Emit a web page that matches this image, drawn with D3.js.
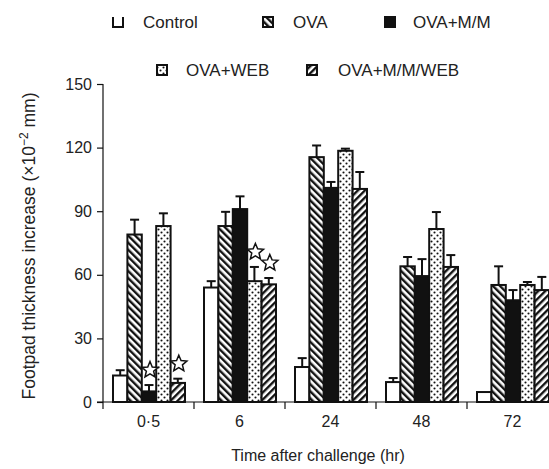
<!DOCTYPE html>
<html>
<head>
<meta charset="utf-8">
<script src="https://cdn.jsdelivr.net/npm/d3@7"></script>
<style>
html,body{margin:0;padding:0;background:#fff;}
svg{display:block;font-family:"Liberation Sans",Arial,sans-serif;}
</style>
</head>
<body>
<svg id="chart" width="549" height="469"></svg>
<script>
const times = ["0·5", "6", "24", "48", "72"];
const series = ["Control", "OVA", "OVA+M/M", "OVA+WEB", "OVA+M/M/WEB"];
const control   = [12.5, 54, 16.5, 9.4, 4.7];
const ova       = [79, 83, 115.5, 64, 55.2];
const ovaMM     = [5, 91, 101, 59.4, 48];
const ovaWeb    = [83, 57, 118.5, 81.6, 55.2];
const ovaMMWeb  = [9, 55.5, 100.5, 63.7, 52.8];
const controlErr  = [2.5, 3, 4.2, 1.9, 0];
const ovaErr      = [7, 6.7, 5.5, 4.4, 8.8];
const ovaMMErr    = [3, 6, 2.8, 8, 4.8];
const ovaWebErr   = [6, 6.7, 1, 8, 1.4];
const ovaMMWebErr = [2, 3, 8, 5.6, 6.2];
const yTicks = [0, 30, 60, 90, 120, 150];
const stars = [["0·5", "OVA+M/M"], ["0·5", "OVA+M/M/WEB"], ["6", "OVA+WEB"], ["6", "OVA+M/M/WEB"]];

const values = [control, ova, ovaMM, ovaWeb, ovaMMWeb];
const errs = [controlErr, ovaErr, ovaMMErr, ovaWebErr, ovaMMWebErr];
const fills = ["#fff", "url(#hatchBack)", "#111", "url(#dots)", "url(#hatchFwd)"];

const svg = d3.select("#chart");
const defs = svg.append("defs");
const p1 = defs.append("pattern").attr("id", "hatchBack").attr("patternUnits", "userSpaceOnUse")
  .attr("width", 5).attr("height", 5).attr("patternTransform", "rotate(-45)");
p1.append("rect").attr("width", 5).attr("height", 5).attr("fill", "#fff");
p1.append("rect").attr("width", 2.4).attr("height", 5).attr("fill", "#111");
const p2 = defs.append("pattern").attr("id", "hatchFwd").attr("patternUnits", "userSpaceOnUse")
  .attr("width", 5).attr("height", 5).attr("patternTransform", "rotate(45)");
p2.append("rect").attr("width", 5).attr("height", 5).attr("fill", "#fff");
p2.append("rect").attr("width", 2.4).attr("height", 5).attr("fill", "#111");
const p3 = defs.append("pattern").attr("id", "dots").attr("patternUnits", "userSpaceOnUse")
  .attr("width", 6).attr("height", 6);
p3.append("rect").attr("width", 6).attr("height", 6).attr("fill", "#fff");
p3.append("circle").attr("cx", 1.5).attr("cy", 1.5).attr("r", 1.05).attr("fill", "#111");
p3.append("circle").attr("cx", 4.5).attr("cy", 4.5).attr("r", 1.05).attr("fill", "#111");

const y = d3.scaleLinear().domain([0, 150]).range([402, 84]);
const x0 = d3.scaleBand().domain(times).range([103, 558]);
const x1 = d3.scaleBand().domain(series).range([10, 82]);

const ink = "#111";

const groups = svg.append("g").selectAll("g").data(times).join("g")
  .attr("transform", t => `translate(${x0(t)},0)`);

groups.each(function(t, gi) {
  const g = d3.select(this);
  series.forEach((s, si) => {
    const v = values[si][gi], e = errs[si][gi];
    const bx = x1(s), bw = x1.bandwidth();
    const cx = bx + bw / 2;
    if (e > 0) {
      g.append("line").attr("x1", cx).attr("x2", cx).attr("y1", y(v)).attr("y2", y(v + e))
        .attr("stroke", ink).attr("stroke-width", 2);
      g.append("line").attr("x1", cx - 4.5).attr("x2", cx + 4.5).attr("y1", y(v + e)).attr("y2", y(v + e))
        .attr("stroke", ink).attr("stroke-width", 2);
    }
    g.append("rect").attr("x", bx).attr("y", y(v)).attr("width", bw).attr("height", y(0) - y(v))
      .attr("fill", fills[si]).attr("stroke", ink).attr("stroke-width", 2);
  });
});

const starPath = (r) => {
  const pts = [];
  for (let i = 0; i < 10; i++) {
    const a = -Math.PI / 2 + i * Math.PI / 5;
    const rr = i % 2 === 0 ? r : r * 0.45;
    pts.push([rr * Math.cos(a), rr * Math.sin(a)]);
  }
  return d3.line()(pts) + "Z";
};
stars.forEach(([t, s]) => {
  const gi = times.indexOf(t), si = series.indexOf(s);
  const v = values[si][gi] + errs[si][gi];
  svg.append("path").attr("d", starPath(8.5))
    .attr("transform", `translate(${x0(t) + x1(s) + x1.bandwidth() / 2 + 1},${y(v) - 15})`)
    .attr("fill", "#fff").attr("stroke", ink).attr("stroke-width", 1.5);
});

svg.append("line").attr("x1", 103).attr("x2", 103).attr("y1", y(150)).attr("y2", y(0))
  .attr("stroke", ink).attr("stroke-width", 1.2);
svg.append("line").attr("x1", 97).attr("x2", 549).attr("y1", y(0)).attr("y2", y(0))
  .attr("stroke", ink).attr("stroke-width", 1.2);

const yAxis = svg.append("g").attr("transform", "translate(103,0)")
  .call(d3.axisLeft(y).tickValues(yTicks).tickSize(6).tickPadding(5));
yAxis.select(".domain").remove();
yAxis.selectAll("line").attr("stroke", ink).attr("stroke-width", 1.2);
yAxis.selectAll("text").attr("font-size", 16).attr("fill", "#222")
  .attr("font-family", "Liberation Sans, Arial, sans-serif");

const xAxis = svg.append("g").attr("transform", `translate(0,${y(0)})`)
  .call(d3.axisBottom(x0).tickSize(0).tickPadding(14));
xAxis.select(".domain").remove();
xAxis.selectAll("text").attr("font-size", 16).attr("fill", "#222")
  .attr("font-family", "Liberation Sans, Arial, sans-serif");
svg.append("g").selectAll("line").data(times).join("line")
  .attr("x1", t => x0(t)).attr("x2", t => x0(t))
  .attr("y1", y(0)).attr("y2", y(0) + 7).attr("stroke", ink).attr("stroke-width", 1.2);

svg.append("text").attr("x", 318).attr("y", 461).attr("text-anchor", "middle")
  .attr("font-size", 16).attr("fill", "#222").text("Time after challenge (hr)");
const yl = svg.append("text").attr("transform", "translate(35,246) rotate(-90)")
  .attr("text-anchor", "middle").attr("font-size", 17.5).attr("fill", "#222");
yl.append("tspan").text("Footpad thickness increase (×10");
yl.append("tspan").attr("dy", -7).attr("font-size", 12).text("−2");
yl.append("tspan").attr("dy", 7).text(" mm)");

const legendItems = [
  {s: "Control", mx: 113, tx: 143, y: 28},
  {s: "OVA", mx: 263, tx: 293, y: 28},
  {s: "OVA+M/M", mx: 385, tx: 413, y: 28},
  {s: "OVA+WEB", mx: 157, tx: 186, y: 76},
  {s: "OVA+M/M/WEB", mx: 307, tx: 338, y: 76}
];
legendItems.forEach(it => {
  const si = series.indexOf(it.s);
  if (si === 0) {
    svg.append("path").attr("d", `M${it.mx},${it.y - 11}V${it.y - 1}H${it.mx + 10}V${it.y - 11}`)
      .attr("fill", "none").attr("stroke", ink).attr("stroke-width", 2);
  } else {
    svg.append("rect").attr("x", it.mx).attr("y", it.y - 11).attr("width", 10).attr("height", 10)
      .attr("fill", fills[si]).attr("stroke", ink).attr("stroke-width", 2);
  }
  svg.append("text").attr("x", it.tx).attr("y", it.y).attr("font-size", 17).attr("fill", "#222").text(it.s);
});
</script>
</body>
</html>
